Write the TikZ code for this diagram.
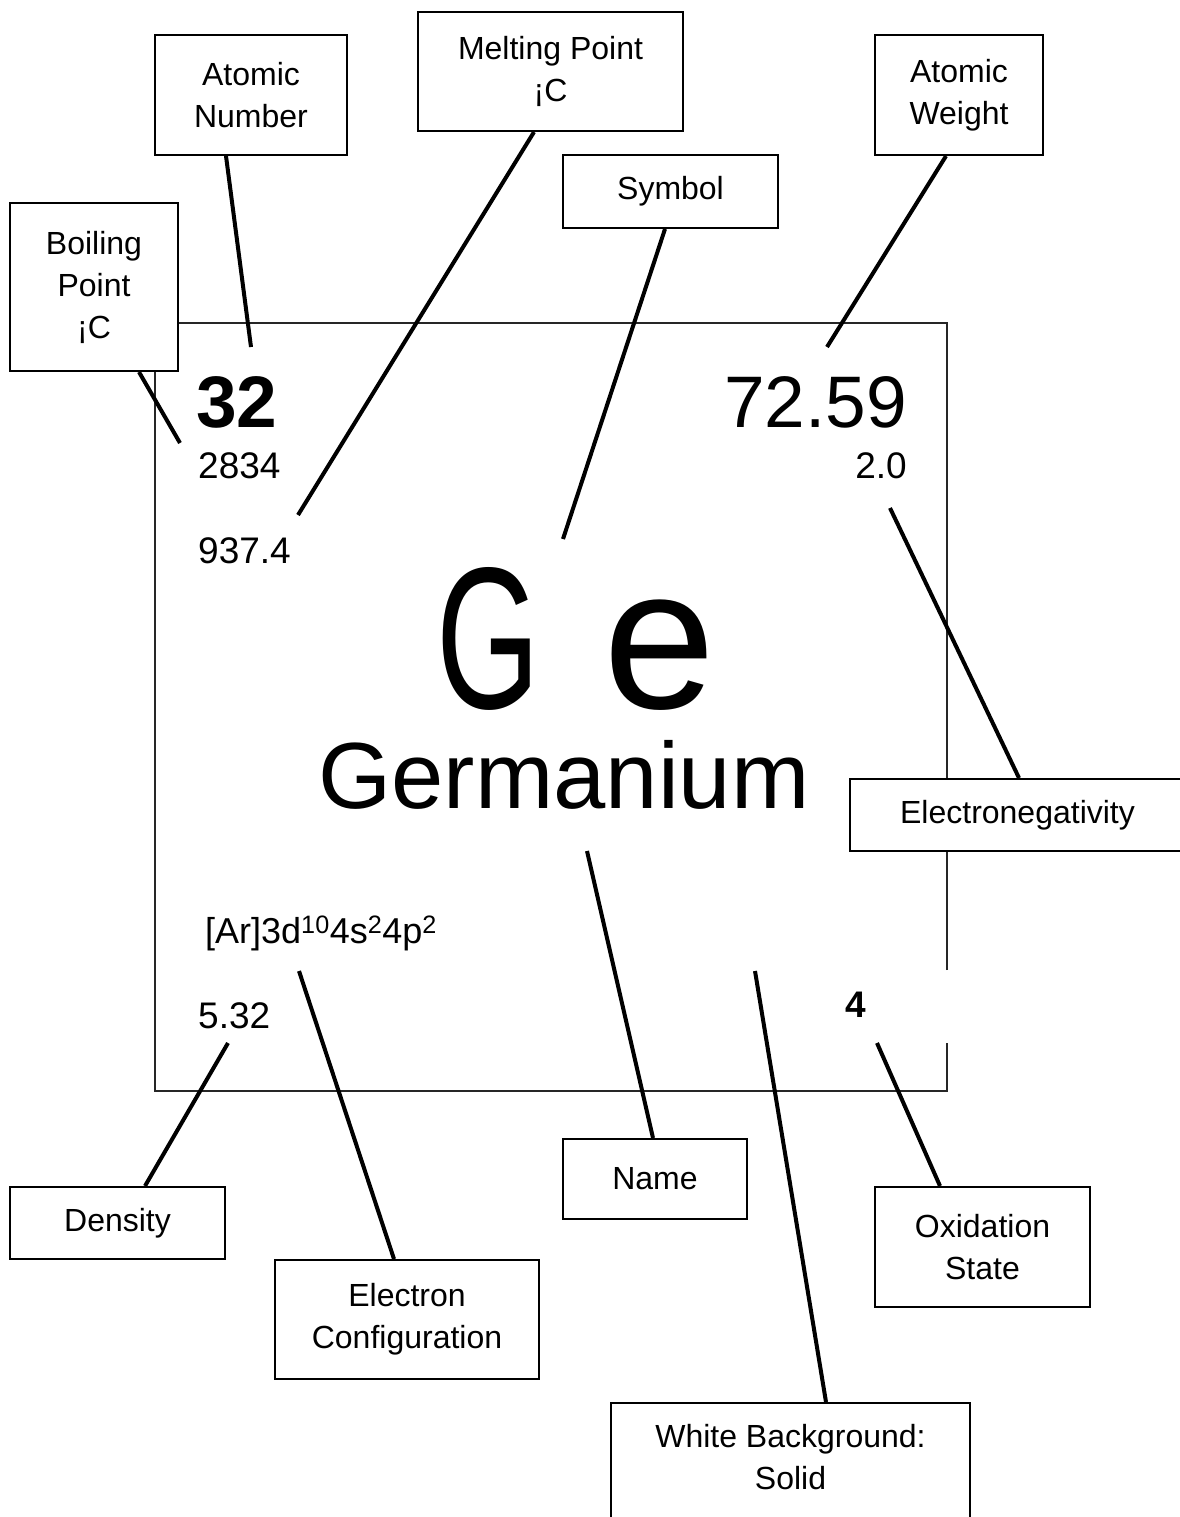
\documentclass[tikz,border=0pt]{standalone}
\usepackage{graphicx}
\usepackage{fontspec}
\setmainfont{Liberation Sans}
\begin{document}
\begin{tikzpicture}[x=1pt,y=-1pt,
  lbl/.style={draw, line width=2pt, fill=white, align=center, inner sep=0pt,
              font=\fontsize{32}{42}\selectfont},
  conn/.style={line width=4pt},
  frame/.style={line width=1.6pt, black!85},
  val/.style={inner sep=0pt}]
\useasboundingbox (0,0) rectangle (1179,1517);
\fill[white] (0,0) rectangle (1179,1517);

% element card frame (with small gap on the right edge)
\draw[frame] (947,970) -- (947,323) -- (155,323) -- (155,1091) -- (947,1091) -- (947,1043);

% label boxes
\node[lbl, minimum width=192pt, minimum height=120pt] (an) at (251,95) {Atomic\\Number};
\node[lbl, minimum width=265pt, minimum height=119pt] (mp) at (550.5,71.5) {Melting Point\\¡C};
\node[lbl, minimum width=215pt, minimum height=73pt] (sy) at (670.5,191.5) {Symbol};
\node[lbl, minimum width=168pt, minimum height=120pt] (aw) at (959,95) {Atomic\\Weight};
\node[lbl, minimum width=168pt, minimum height=168pt] (bp) at (94,287) {Boiling\\Point\\¡C};
\node[lbl, minimum width=335pt, minimum height=72pt] (en) at (1017.5,815) {Electronegativity};
\node[lbl, minimum width=215pt, minimum height=72pt] (de) at (117.5,1223) {Density};
\node[lbl, minimum width=264pt, minimum height=119pt] (ec) at (407,1319.5) {Electron\\Configuration};
\node[lbl, minimum width=184pt, minimum height=80pt] (nm) at (655,1179) {Name};
\node[lbl, minimum width=215pt, minimum height=120pt] (ox) at (982.5,1247) {Oxidation\\State};
\node[lbl, minimum width=359pt, minimum height=130pt, text depth=22pt] (wb) at (790.5,1468) {White Background:\\Solid};

% values on the card
\node[val, anchor=base west, font=\bfseries\fontsize{73}{88}\selectfont] (vnum) at (196,427) {32};
\node[val, anchor=base east, font=\fontsize{73}{88}\selectfont] (vwt) at (907,427) {72.59};
\node[val, anchor=base west, font=\fontsize{37}{44}\selectfont] (vbp) at (198,478) {2834};
\node[val, anchor=base east, font=\fontsize{37}{44}\selectfont] (ven) at (907,478) {2.0};
\node[val, anchor=base west, font=\fontsize{37}{44}\selectfont] (vmp) at (198,563) {937.4};
\node[val, anchor=base west, font=\fontsize{202}{240}\selectfont] (vsym) at (436,708)
  {\scalebox{0.66}[1]{G}\kern64pt e};
\node[val, anchor=base, font=\fontsize{94}{112}\selectfont] (vname) at (564,808) {Germanium};
\node[val, anchor=base west, font=\fontsize{36}{44}\selectfont] (vcfg) at (205,943)
  {[Ar]3d\textsuperscript{10}4s\textsuperscript{2}4p\textsuperscript{2}};
\node[val, anchor=base west, font=\fontsize{37}{44}\selectfont] (vden) at (198,1028) {5.32};
\node[val, anchor=base west, font=\bfseries\fontsize{37}{44}\selectfont] (vox) at (845,1017) {4};

% connector ends on the card
\coordinate (t-an) at (251,347);
\coordinate (t-mp) at (298,515);
\coordinate (t-sy) at (563,539);
\coordinate (t-aw) at (827,347);
\coordinate (t-bp) at (180,443);
\coordinate (t-en) at (890,508);
\coordinate (t-de) at (228,1043);
\coordinate (t-ec) at (299,971);
\coordinate (t-nm) at (587,851);
\coordinate (t-ox) at (877,1043);
\coordinate (t-wb) at (755,971);

% connectors
\draw[conn] ([xshift=72pt]an.south west) -- (t-an);
\draw[conn] ([xshift=117pt]mp.south west) -- (t-mp);
\draw[conn] ([xshift=103pt]sy.south west) -- (t-sy);
\draw[conn] ([xshift=72pt]aw.south west) -- (t-aw);
\draw[conn] ([xshift=130pt]bp.south west) -- (t-bp);
\draw[conn] ([xshift=170pt]en.north west) -- (t-en);
\draw[conn] ([xshift=136pt]de.north west) -- (t-de);
\draw[conn] ([xshift=120pt]ec.north west) -- (t-ec);
\draw[conn] ([xshift=91pt]nm.north west) -- (t-nm);
\draw[conn] ([xshift=66pt]ox.north west) -- (t-ox);
\draw[conn] ([xshift=216pt]wb.north west) -- (t-wb);
\end{tikzpicture}
\end{document}
